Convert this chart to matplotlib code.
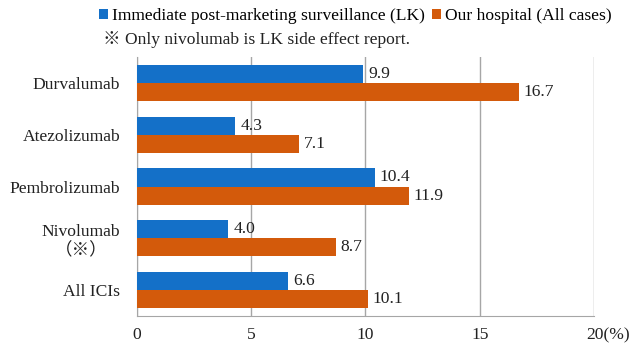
import matplotlib
matplotlib.use("Agg")
import matplotlib.pyplot as plt
import matplotlib.transforms as mtransforms
import numpy as np

plt.rcParams['font.family'] = ['Liberation Serif', 'Noto Sans CJK JP', 'DejaVu Sans']

categories = ["Durvalumab", "Atezolizumab", "Pembrolizumab", "Nivolumab\n（※）", "All ICIs"]
lk_values = [9.9, 4.3, 10.4, 4.0, 6.6]
hospital_values = [16.7, 7.1, 11.9, 8.7, 10.1]
xtick_values = [0, 5, 10, 15, 20]
xtick_labels = ["0", "5", "10", "15", "20(%)"]
series_names = ["Immediate post-marketing surveillance (LK)", "Our hospital (All cases)"]
note = "※ Only nivolumab is LK side effect report."

blue = "#1470C8"
orange = "#D35A0B"
grid_gray = "#A6A6A6"
text_color = "#222222"
fs = 12.6

fig = plt.figure(figsize=(6.35, 3.47), dpi=100)
ax = fig.add_axes([0.2157, 0.0893, 0.7197, 0.7464])

y = np.arange(len(categories))
h = 0.35
b1 = ax.barh(y - h / 2, lk_values, height=h, color=blue, label=series_names[0], zorder=3)
b2 = ax.barh(y + h / 2, hospital_values, height=h, color=orange, label=series_names[1], zorder=3)

for bars, vals in ((b1, lk_values), (b2, hospital_values)):
    for bar, v in zip(bars, vals):
        ax.text(v + 0.22, bar.get_y() + bar.get_height() / 2, f"{v:.1f}",
                va="center", ha="left", fontsize=fs, color=text_color, zorder=4)

ax.set_xlim(0, 20)
ax.set_ylim(len(categories) - 0.5, -0.5)
ax.set_xticks(xtick_values)
ax.set_xticklabels(xtick_labels)
ax.set_yticks(y)
ax.set_yticklabels(categories, ha="right", multialignment="center")
ax.tick_params(axis="y", length=0, pad=12, labelsize=fs, colors=text_color)
ax.tick_params(axis="x", length=0, pad=8, labelsize=fs, colors=text_color)

# keep the number of the last tick centred on its gridline, with the unit trailing
last = ax.get_xticklabels()[-1]
last.set_horizontalalignment("left")
last.set_transform(last.get_transform() +
                   mtransforms.ScaledTranslation(-8 / 100, 0, fig.dpi_scale_trans))

ax.grid(axis="x", color=grid_gray, linewidth=1.0, zorder=0)
for side in ("top", "right"):
    ax.spines[side].set_visible(False)
ax.spines["left"].set_color(grid_gray)
ax.spines["bottom"].set_color(grid_gray)

fig.legend(handles=[b1, b2], labels=series_names, loc="upper center",
           bbox_to_anchor=(0.56, 1.0), ncol=2, frameon=False, fontsize=fs,
           handlelength=0.5, handleheight=0.5, handletextpad=0.25, columnspacing=0.4,
           borderaxespad=0.05)
fig.text(0.162, 0.885, note, fontsize=fs, ha="left", va="center", color=text_color)

fig.savefig("out.png", dpi=100)
